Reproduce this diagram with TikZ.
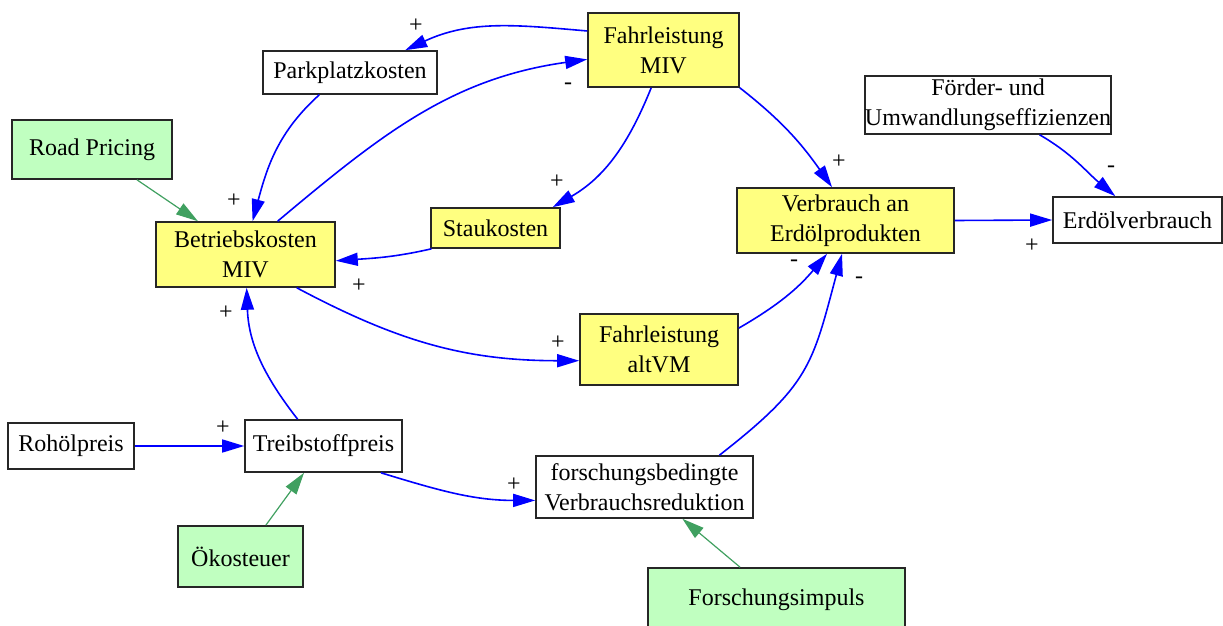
\documentclass[tikz,border=0pt]{standalone}
\usepackage{fontspec}
\setmainfont{Liberation Serif}
\definecolor{loopyellow}{RGB}{255,255,128}
\definecolor{leverfill}{RGB}{192,255,192}
\definecolor{leverline}{RGB}{64,160,96}
\usetikzlibrary{arrows.meta}
\tikzset{
  var/.style={draw=black!85,line width=0.8pt,fill=white,inner sep=0pt,
              align=center,font=\fontsize{12}{15}\selectfont},
  loopvar/.style={var,fill=loopyellow},
  lever/.style={var,fill=leverfill},
  dims/.style 2 args={minimum width=#1pt,minimum height=#2pt},
  arr/.style={-{Triangle[length=11pt,width=6.5pt]},line width=0.8pt,blue},
  parr/.style={-{Triangle[length=11pt,width=6.5pt]},line width=0.6pt,leverline},
  sign/.style={inner sep=0pt,font=\fontsize{12}{14}\selectfont},
}
\begin{document}
\begin{tikzpicture}[x=0.5pt,y=0.5pt]
  \useasboundingbox (0,0) rectangle (1223,-626);
  \node[var,dims={87}{21.5}] (pp) at (350,-72.5) {Parkplatzkosten};
  \node[lever,dims={80}{29.5}] (rp) at (92,-149.5) {Road Pricing};
  \node[loopvar,dims={89.5}{32.5}] (bk) at (245.5,-254.5) {Betriebskosten\\MIV};
  \node[loopvar,dims={75.5}{37}] (fm) at (663.5,-50) {Fahrleistung\\MIV};
  \node[loopvar,dims={64.5}{20}] (sk) at (495.5,-228) {Staukosten};
  \node[loopvar,dims={108.5}{32.5}] (ve) at (845.5,-220.5) {Verbrauch an\\Erdölprodukten};
  \node[var,dims={121}{29}] (fu) at (988,-105) {Förder- und\\Umwandlungseffizienzen};
  \node[var,dims={84.5}{23}] (ev) at (1137.5,-220) {Erdölverbrauch};
  \node[loopvar,dims={79}{35.5}] (fa) at (659,-349.5) {Fahrleistung\\altVM};
  \node[var,dims={63}{23}] (ro) at (71,-446) {Rohölpreis};
  \node[var,dims={78.5}{26}] (tp) at (323.5,-446) {Treibstoffpreis};
  \node[lever,dims={62.5}{30.5}] (ok) at (240.5,-556.5) {Ökosteuer};
  \node[var,dims={108.5}{31}] (fr) at (644.5,-487) {forschungsbedingte\\Verbrauchsreduktion};
  \node[lever,dims={128.5}{32}] (fi) at (776.5,-600) {Forschungsimpuls};

  \draw[arr] (fm.166.6) to[out=175,in=25] (pp.22.5);
  \draw[arr] (bk.46.8) to[out=40,in=188] (fm.187.5);
  \draw[arr] (pp.216.6) to[out=222,in=75] (bk.78.7);
  \draw[arr] (fm.252.7) to[out=248,in=30] (sk.20.9);
  \draw[arr] (sk.198.3) to[out=193,in=4] (bk.-4.7);
  \draw[arr] (fm.south east) to[out=322,in=125] (ve.112.6);
  \draw[arr] (fu.330.4) to[out=330,in=140] (ev.133);
  \draw[arr] (ve.east) -- (ev.west);
  \draw[parr] (rp.326.2) -- (bk.145.6);
  \draw[arr] (bk.327.2) to[out=332,in=180] (fa.188.3);
  \draw[arr] (fa.15.9) to[out=30,in=230] (ve.241.7);
  \draw[arr] (tp.134.4) to[out=128,in=272] (bk.272.6);
  \draw[arr] (ro.east) -- (tp.west);
  \draw[parr] (ok.51.2) -- (tp.234.6);
  \draw[arr] (tp.335.3) to[out=343,in=180] (fr.187.9);
  \draw[arr] (fr.23.4) to[out=38,in=255,looseness=1.25] (ve.264);
  \draw[parr] (fi.138) -- (fr.320.4);

  \node[sign] (s1) at (416,-26) {+};
  \node[sign] (s2) at (568,-86) {-};
  \node[sign] (s3) at (234,-201) {+};
  \node[sign] (s4) at (557,-182) {+};
  \node[sign] (s5) at (359,-286) {+};
  \node[sign] (s6) at (839,-162) {+};
  \node[sign] (s7) at (1111,-169) {-};
  \node[sign] (s8) at (1032,-246) {+};
  \node[sign] (s10) at (558,-343) {+};
  \node[sign] (s11) at (794,-263) {-};
  \node[sign] (s12) at (226,-313) {+};
  \node[sign] (s13) at (223,-428) {+};
  \node[sign] (s15) at (514,-485) {+};
  \node[sign] (s16) at (859,-280) {-};
\end{tikzpicture}
\end{document}
